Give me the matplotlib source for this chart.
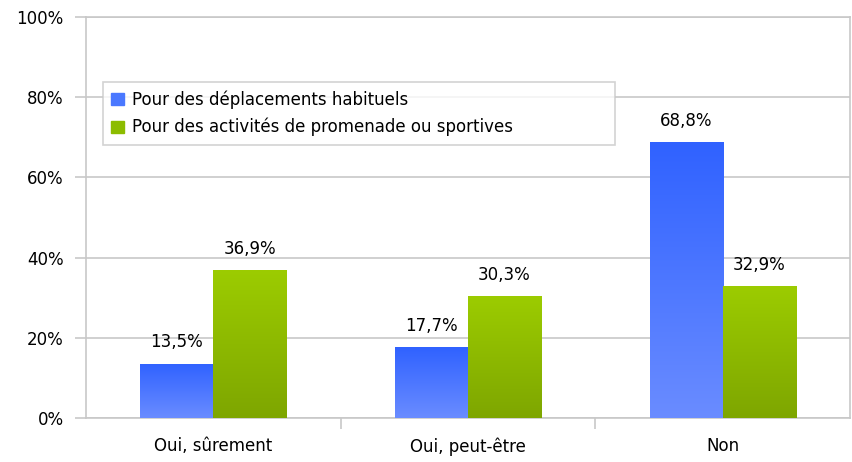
import numpy as np
import matplotlib.pyplot as plt
from matplotlib.colors import LinearSegmentedColormap
from matplotlib.patches import Patch

categories = ['Oui, sûrement', 'Oui, peut-être', 'Non']
habituels = [13.5, 17.7, 68.8]
promenade = [36.9, 30.3, 32.9]
series_names = ['Pour des déplacements habituels',
                'Pour des activités de promenade ou sportives']
yticks = [0, 20, 40, 60, 80, 100]

plt.rcParams['font.family'] = ['DejaVu Sans']

fig = plt.figure(figsize=(8.52, 4.62), dpi=100)
ax = fig.add_axes([86 / 852, 1 - 418 / 462, (850 - 86) / 852, (418 - 17) / 462])

x = np.arange(len(categories))
w = 0.287
grid_c = '#c8c8c8'
fs = 12

blue_cm = LinearSegmentedColormap.from_list('b', ['#6a8cff', '#3062ff'])
green_cm = LinearSegmentedColormap.from_list('g', ['#7ea600', '#9ccc00'])

grad = np.linspace(0, 1, 256).reshape(-1, 1)

def grad_bars(xs, vals, cmap, label):
    bars = ax.bar(xs, vals, w, color=cmap(0.5), label=label, zorder=3)
    for b in bars:
        b.set_facecolor('none')
        b.set_edgecolor('none')
        x0, y0 = b.get_x(), b.get_y()
        im = ax.imshow(grad, cmap=cmap, aspect='auto', origin='lower',
                       extent=(x0, x0 + b.get_width(), y0, y0 + b.get_height()),
                       zorder=3)
        im.set_clip_path(b)
    for xi, v in zip(xs, vals):
        ax.annotate(f'{v:.1f}%'.replace('.', ','), (xi, v), xytext=(0, 9),
                    textcoords='offset points', ha='center', va='bottom',
                    fontsize=fs)
    return bars

grad_bars(x - w / 2, habituels, blue_cm, series_names[0])
grad_bars(x + w / 2, promenade, green_cm, series_names[1])

ax.set_xlim(-0.5, 2.5)
ax.set_ylim(0, 100)
ax.set_yticks(yticks)
ax.set_yticklabels([f'{t}%' for t in yticks], fontsize=fs)
ax.yaxis.grid(True, color=grid_c, lw=1.2, zorder=0)
ax.set_axisbelow(True)

ax.set_xticks(x)
ax.set_xticklabels(categories, fontsize=fs)
ax.tick_params(axis='x', length=0, pad=14)
ax.set_xticks([0.5, 1.5], minor=True)
ax.tick_params(axis='x', which='minor', length=8, color=grid_c, width=1.2)
ax.tick_params(axis='y', length=8, color=grid_c, width=1.2, pad=8)

for s in ax.spines.values():
    s.set_color(grid_c)
    s.set_linewidth(1.2)

handles = [Patch(color='#4a78ff'), Patch(color='#8cbc00')]
lx0 = (103 - 86) / 764
ly1 = (418 - 82) / 401
leg = ax.legend(handles, series_names, loc='upper left', mode='expand',
                bbox_to_anchor=(lx0, ly1 - 0.2, (615 - 103) / 764, 0.2),
                fontsize=fs, frameon=True, fancybox=False, handlelength=0.75,
                handleheight=0.75, handletextpad=0.5, borderpad=0.5,
                borderaxespad=0, labelspacing=0.55)
leg.get_frame().set_edgecolor(grid_c)
leg.get_frame().set_linewidth(1.2)
leg.set_zorder(5)

fig.savefig('out.png', dpi=100)
